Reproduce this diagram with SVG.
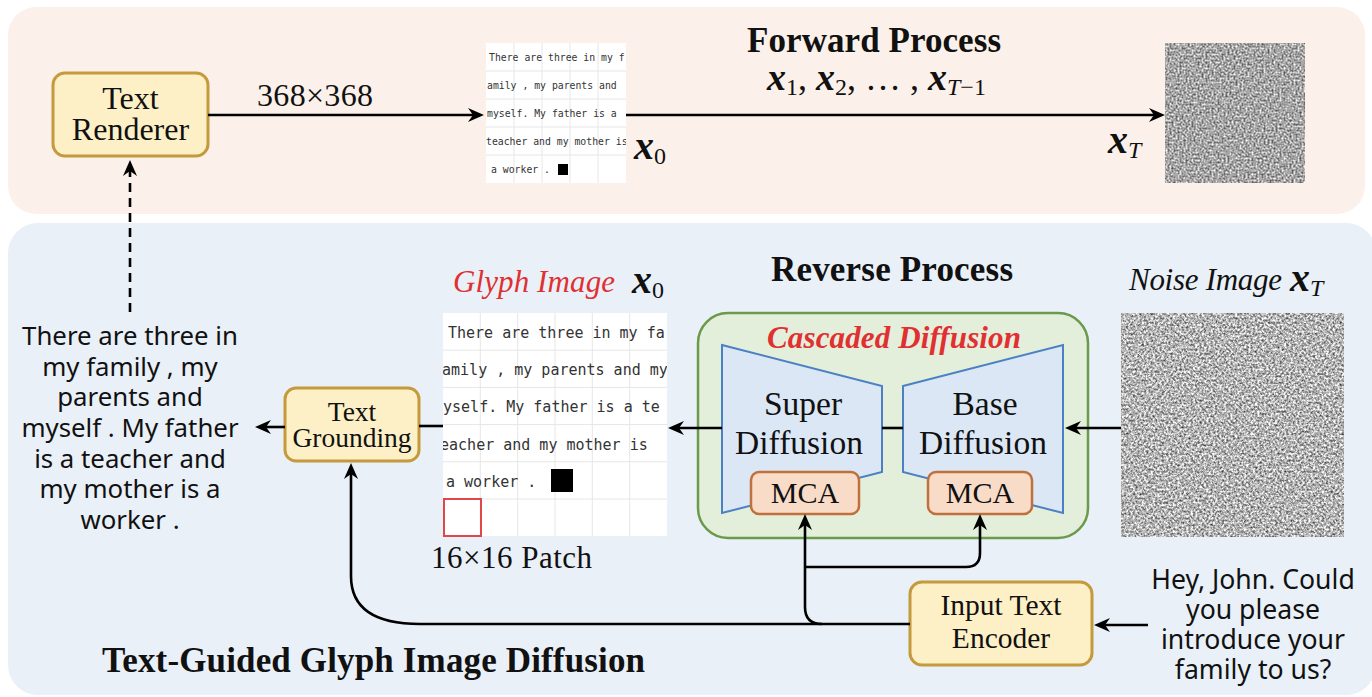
<svg xmlns="http://www.w3.org/2000/svg" width="1372" height="697" viewBox="0 0 1372 697">
<style>
.serif{font-family:"Liberation Serif","Times New Roman",serif;fill:#111}
.sans{font-family:"Noto Sans","Open Sans",sans-serif;fill:#111}
.mono{font-family:"DejaVu Sans Mono","Liberation Mono",monospace;fill:#333}
.ybox{fill:#fdf0c6;stroke:#c49a3c;stroke-width:3}
.obox{fill:#f8dcc8;stroke:#c0703c;stroke-width:2.5}
.trap{fill:#dbe7f5;stroke:#4a80c4;stroke-width:2}
.grid{stroke:#e6e6e6;stroke-width:1;fill:none}
.conn{fill:none;stroke:#000;stroke-width:2.6}
.bi{font-weight:bold;font-style:italic}
.bold{font-weight:bold}
.red{fill:#e03030}
</style>
<defs>
<marker id="ah" markerUnits="userSpaceOnUse" markerWidth="16" markerHeight="14" refX="5" refY="7" orient="auto">
<path d="M0,0 L16,7 L0,14 L5,7 z" fill="#000"/>
</marker>
<filter id="noise" x="0" y="0" width="1" height="1" color-interpolation-filters="sRGB">
<feTurbulence type="fractalNoise" baseFrequency="0.45" numOctaves="3" seed="7"/>
<feColorMatrix type="matrix" values="1.25 0 0 0 0.08  1.25 0 0 0 0.08  1.25 0 0 0 0.08  0 0 0 0 1"/>
</filter>
<filter id="noise2" x="0" y="0" width="1" height="1" color-interpolation-filters="sRGB">
<feTurbulence type="fractalNoise" baseFrequency="0.5" numOctaves="3" seed="3"/>
<feColorMatrix type="matrix" values="1.1 0 0 0 0.1  1.1 0 0 0 0.1  1.1 0 0 0 0.1  0 0 0 0 1"/>
</filter>
<clipPath id="clipSmall"><rect x="486" y="43" width="140" height="140"/></clipPath>
<clipPath id="clipBig"><rect x="443" y="313" width="224" height="223"/></clipPath>
</defs>

<g id="top-panel"><rect x="8" y="7" width="1357" height="207" rx="28" fill="#fbf1ea"/></g>
<g id="bottom-panel"><rect x="8" y="223" width="1368" height="472" rx="30" fill="#e9f0f8"/></g>

<g id="text-renderer">
<rect class="ybox" x="53" y="73" width="155" height="83" rx="12"/>
<text class="serif" x="130.5" y="109" font-size="32" text-anchor="middle">Text</text>
<text class="serif" x="130.5" y="140" font-size="32" text-anchor="middle">Renderer</text>
</g>

<g id="size-label"><text class="serif" x="257" y="106" font-size="32" textLength="116">368×368</text></g>

<g id="glyph-small">
<rect x="486" y="43" width="140" height="140" fill="#fff"/>
<path class="grid" d="M514 43V183M542 43V183M570 43V183M598 43V183M486 71H626M486 99H626M486 127H626M486 155H626"/>
<g clip-path="url(#clipSmall)" class="mono" font-size="9.8">
<text x="489" y="61">There are three in my f</text>
<text x="487" y="89">amily , my parents and</text>
<text x="487" y="117">myself. My father is a</text>
<text x="486" y="145">teacher and my mother is</text>
<text x="491" y="173">a worker .</text>
</g>
<rect x="558" y="164" width="10" height="11" fill="#000"/>
</g>

<g id="x0-top"><text class="serif bi" x="634" y="159" font-size="40">x<tspan font-weight="normal" font-style="normal" font-size="24" dy="5">0</tspan></text></g>

<g id="forward-label">
<text class="serif bold" x="747" y="52" font-size="35" textLength="254">Forward Process</text>
<text class="serif" x="767" y="90" font-size="36"><tspan class="bi" font-size="38">x</tspan><tspan font-size="24" dy="5">1</tspan><tspan dy="-5">, </tspan><tspan class="bi" font-size="38">x</tspan><tspan font-size="24" dy="5">2</tspan><tspan dy="-5">, … , </tspan><tspan class="bi" font-size="38">x</tspan><tspan font-size="24" dy="5"><tspan font-style="italic">T</tspan>−1</tspan></text>
</g>

<g id="xT-top"><text class="serif bi" x="1108" y="153" font-size="40">x<tspan font-weight="normal" font-size="24" dy="5">T</tspan></text></g>

<g id="noise-top"><rect x="1165" y="43" width="140" height="140" fill="#999" filter="url(#noise2)"/></g>

<g id="reverse-label"><text class="serif bold" x="771" y="281" font-size="35" textLength="242">Reverse Process</text></g>

<g id="glyph-label"><text class="serif red" x="453" y="292" font-size="31" font-style="italic" textLength="162">Glyph Image</text>
<text class="serif bi" x="632" y="293" font-size="40">x<tspan font-weight="normal" font-style="normal" font-size="24" dy="5">0</tspan></text></g>

<g id="glyph-big">
<rect x="443" y="313" width="224" height="223" fill="#fff"/>
<path class="grid" d="M480.3 313V536M517.7 313V536M555 313V536M592.3 313V536M629.7 313V536M443 350.2H667M443 387.4H667M443 424.6H667M443 461.8H667M443 499H667"/>
<g clip-path="url(#clipBig)" class="mono" font-size="15">
<text x="448" y="338">There are three in my fa</text>
<text x="433" y="375">family , my parents and my</text>
<text x="434" y="412">myself. My father is a te</text>
<text x="431" y="450">teacher and my mother is</text>
<text x="446" y="487">a worker .</text>
</g>
<rect x="551" y="469" width="22" height="23" fill="#000"/>
<rect x="444" y="499" width="37" height="37" fill="none" stroke="#e04848" stroke-width="2"/>
</g>

<g id="patch-label"><text class="serif" x="431" y="568" font-size="31" textLength="161">16×16 Patch</text></g>

<g id="noise-label"><text class="serif" x="1129" y="290" font-size="31" font-style="italic" textLength="153">Noise Image</text>
<text class="serif bi" x="1290" y="291" font-size="40">x<tspan font-weight="normal" font-size="24" dy="5">T</tspan></text></g>

<g id="noise-bottom"><rect x="1121" y="313" width="223" height="224" fill="#999" filter="url(#noise)"/></g>

<g id="cascaded-diffusion">
<rect x="698" y="313" width="390" height="225" rx="30" fill="#e3eedb" stroke="#6a9a4a" stroke-width="2.5"/>
<text class="serif bi red" x="767" y="348" font-size="31" textLength="254">Cascaded Diffusion</text>
</g>

<g id="super-diffusion">
<polygon class="trap" points="722,345 882,386 882,472 722,513"/>
<text class="serif" x="803" y="415" font-size="33.5" text-anchor="middle">Super</text>
<text class="serif" x="799" y="454" font-size="33.5" text-anchor="middle">Diffusion</text>
</g>
<g id="base-diffusion">
<polygon class="trap" points="903,386 1063,345 1063,513 903,472"/>
<text class="serif" x="985" y="415" font-size="33.5" text-anchor="middle">Base</text>
<text class="serif" x="983" y="454" font-size="33.5" text-anchor="middle">Diffusion</text>
</g>
<g id="mca-left">
<rect class="obox" x="751" y="472" width="108" height="42" rx="8"/>
<text class="serif" x="805" y="503" font-size="30" text-anchor="middle">MCA</text>
</g>
<g id="mca-right">
<rect class="obox" x="928" y="472" width="104" height="42" rx="8"/>
<text class="serif" x="980" y="503" font-size="30" text-anchor="middle">MCA</text>
</g>

<g id="text-grounding">
<rect class="ybox" x="285" y="388" width="134" height="73" rx="11"/>
<text class="serif" x="352" y="421" font-size="27.5" text-anchor="middle">Text</text>
<text class="serif" x="352" y="447" font-size="27.5" text-anchor="middle">Grounding</text>
</g>

<g id="input-text-encoder">
<rect class="ybox" x="910" y="582" width="182" height="83" rx="12"/>
<text class="serif" x="1001" y="615" font-size="29.5" text-anchor="middle">Input Text</text>
<text class="serif" x="1001" y="648" font-size="29.5" text-anchor="middle">Encoder</text>
</g>

<g id="output-text" class="sans" font-size="25.8" text-anchor="middle">
<text x="130" y="345">There are three in</text>
<text x="130" y="376">my family , my</text>
<text x="130" y="406">parents and</text>
<text x="130" y="437">myself . My father</text>
<text x="130" y="468">is a teacher and</text>
<text x="130" y="498">my mother is a</text>
<text x="130" y="529">worker .</text>
</g>

<g id="input-text" class="sans" font-size="26.6" text-anchor="middle">
<text x="1253" y="589">Hey, John. Could</text>
<text x="1253" y="619">you please</text>
<text x="1253" y="649">introduce your</text>
<text x="1253" y="679">family to us?</text>
</g>

<g id="title-bottom"><text class="serif bold" x="102" y="672" font-size="35" textLength="543">Text-Guided Glyph Image Diffusion</text></g>

<g id="connectors">
<path class="conn" d="M208 115H473" stroke-width="3" marker-end="url(#ah)"/>
<path class="conn" d="M626 115H1154" stroke-width="3.2" marker-end="url(#ah)"/>
<path class="conn" d="M130 312V171" stroke-width="3" stroke-dasharray="9,6" marker-end="url(#ah)"/>
<path class="conn" d="M1121 428H1076" marker-end="url(#ah)"/>
<path class="conn" d="M903 428H882"/>
<path class="conn" d="M722 428H679" marker-end="url(#ah)"/>
<path class="conn" d="M443 426H419"/>
<path class="conn" d="M285 427H266" marker-end="url(#ah)"/>
<path class="conn" d="M1148 625H1105" marker-end="url(#ah)"/>
<path class="conn" d="M910 624H420Q351 624 351 576V474" marker-end="url(#ah)"/>
<path class="conn" d="M822 624Q805 624 805 607V525" marker-end="url(#ah)"/>
<path class="conn" d="M805 567H966Q980 567 980 553V525" marker-end="url(#ah)"/>
</g>
</svg>
